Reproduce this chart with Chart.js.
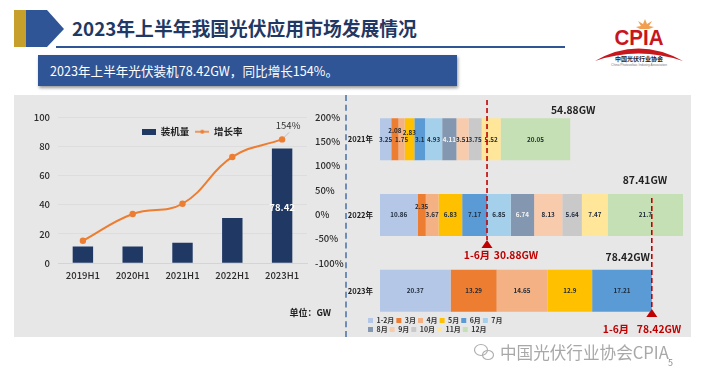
<!DOCTYPE html>
<html><head><meta charset="utf-8">
<script src="https://cdn.jsdelivr.net/npm/chart.js@4"></script>
<style>
html,body{margin:0;padding:0;background:#fff;width:702px;height:377px;overflow:hidden;font-family:"Noto Sans CJK SC","Noto Sans",sans-serif}
.abs{position:absolute}
#panel{left:14px;top:95px;width:677px;height:242px;background:#E7E7E7}
#divider{left:345px;top:95px;height:242px;border-left:2px dashed #6F8DB5}
#title{left:72px;top:14px;font-size:18.8px;font-weight:700;color:#1F3864;line-height:28px;white-space:nowrap}
#sub{left:38px;top:55px;width:419px;height:31px;background:#2F5597;box-shadow:1px 2px 3px #999;color:#fff;font-size:12.6px;line-height:31px;text-indent:12px;white-space:nowrap}
#rule{left:56px;top:46px;width:509px;height:2px;background:#2F5597}
#mark{left:500px;top:340px;font-size:16.6px;color:#A8A8A8;line-height:24px;white-space:nowrap}
#pg{left:668px;top:356px;font-size:9px;color:#888}
canvas{display:block}
</style></head><body>
<div class="abs" id="panel"></div>
<div class="abs" id="divider"></div>
<svg class="abs" style="left:0;top:0" width="702" height="377">
  <rect x="14" y="10" width="12" height="37" fill="#C7A02C"/>
  <polygon points="26,10 47,10 64,29 47,47 26,47" fill="#2F5597"/>
  <polygon points="645,19 647,24 652,21 649,26 654,27 649,29 640,29 636,27 641,26 638,21 643,24" fill="#F0A050"/>
  <text x="639" y="45" text-anchor="middle" font-family="Liberation Sans" font-weight="700" font-size="22" fill="#C8161D" textLength="49" lengthAdjust="spacingAndGlyphs">CPIA</text>
  <path d="M595 61 Q638 36 683 61 Q638 46 595 61Z" fill="#C8161D"/>
  <text x="639" y="61" text-anchor="middle" font-family="Noto Sans CJK SC" font-weight="700" font-size="6" fill="#222">中国光伏行业协会</text>
  <text x="639" y="66" text-anchor="middle" font-family="Liberation Sans" font-size="3.2" fill="#777">China Photovoltaic Industry Association</text>
  <g fill="none" stroke="#B0B0B0" stroke-width="1.2">
    <ellipse cx="481" cy="350" rx="6.5" ry="5.5"/>
    <ellipse cx="488" cy="355" rx="5.5" ry="4.5"/>
  </g>
</svg>
<div class="abs" id="title">2023年上半年我国光伏应用市场发展情况</div>
<div class="abs" id="rule"></div>
<div class="abs" id="sub">2023年上半年光伏装机78.42GW，同比增长154%。</div>
<div class="abs" style="left:14px;top:95px;width:331px;height:230px"><canvas id="left" width="331" height="230"></canvas></div>
<div class="abs" style="left:345px;top:90px;width:346px;height:265px"><canvas id="right" width="346" height="265"></canvas></div>
<div class="abs" id="mark">中国光伏行业协会CPIA</div>
<div class="abs" id="pg">5</div>
<script>
// ---- left chart data
const halves = ['2019H1','2020H1','2021H1','2022H1','2023H1'];
const installed = [11.4, 11.5, 14.0, 30.88, 78.42];
const growth = [-54, 1, 22, 118, 154];
const leftUnit = '单位：GW';
// ---- right chart data
const years = ['2021年','2022年','2023年'];
const months = ['1-2月','3月','4月','5月','6月','7月','8月','9月','10月','11月','12月'];
const month2021 = [3.25,2.08,1.75,2.83,3.1,4.93,4.11,3.51,3.75,5.52,20.05];
const month2022 = [10.86,2.35,3.67,6.83,7.17,6.85,6.74,8.13,5.64,7.47,21.7];
const month2023 = [20.37,13.29,14.65,12.9,17.21];
const yearTotals = ['54.88GW','87.41GW','78.42GW'];
const h1Values = [30.88,78.42];
const monthColors = ['#B4C7E7','#ED7D31','#F4B183','#FFC000','#5B9BD5','#A5D0EC','#8497B0','#F8CBAD','#C9C9C9','#FFE699','#C5E0B4'];
const FONT = '"Noto Sans CJK SC","Noto Sans",sans-serif';
const RED = '#C00000', INK = '#2B2B2B';
Chart.defaults.animation = false;
Chart.defaults.font.family = FONT;

// moves a native legend to a chosen canvas position, without taking chart-area room
const placeLegend = (x,y,wrapWidth) => ({id:'placeLegend', afterLayout(c){
  const l=c.legend, w=wrapWidth||(l.right-l.left), h=l.bottom-l.top;
  l.left=x; l.right=x+w; l.top=y; l.bottom=y+h;
}});
function swatch(w,h,draw){const s=document.createElement('canvas');s.width=w;s.height=h;draw(s.getContext('2d'));return s;}
const barSwatch = swatch(14,6,g=>{g.fillStyle='#1F3864';g.fillRect(0,0,14,6);});
const lineSwatch = swatch(14,6,g=>{g.strokeStyle='#ED7D31';g.lineWidth=1.5;g.beginPath();g.moveTo(0,3);g.lineTo(14,3);g.stroke();g.fillStyle='#ED7D31';g.beginPath();g.arc(7,3,2,0,7);g.fill();});

new Chart(document.getElementById('left'),{
  data:{labels:halves,datasets:[
    {type:'line',label:'增长率',data:growth,yAxisID:'y2',borderColor:'#ED7D31',backgroundColor:'#ED7D31',borderWidth:2,tension:0.42,pointRadius:2.2,order:0},
    {type:'bar',label:'装机量',data:installed,yAxisID:'y',backgroundColor:'#1F3864',categoryPercentage:1,barPercentage:0.41,order:1}
  ]},
  options:{responsive:false,
    layout:{padding:{top:22,left:0,right:0,bottom:16.3}},
    plugins:{
      tooltip:{enabled:false},
      legend:{position:'bottom',align:'start',labels:{usePointStyle:true,pointStyleWidth:14,boxHeight:6,font:{size:9.5,weight:'bold'},color:'#222',padding:6,
        generateLabels(c){return [
          {text:'装机量',pointStyle:barSwatch,datasetIndex:1,lineWidth:0,strokeStyle:'transparent',fontColor:'#222'},
          {text:'增长率',pointStyle:lineSwatch,datasetIndex:0,lineWidth:0,strokeStyle:'transparent',fontColor:'#222'}];}
      }}
    },
    scales:{
      x:{grid:{display:false,drawTicks:false},border:{color:'#D4D4D4'},ticks:{color:INK,font:{size:9.5,weight:'500'},padding:6},afterFit(s){s.height=20;}},
      y:{min:0,max:100,ticks:{stepSize:20,color:INK,font:{size:9.5,weight:'500'},padding:8},grid:{color:'#DDDDDD',drawTicks:false},border:{display:false},afterFit(s){s.width=44;}},
      y2:{position:'right',min:-100,max:200,ticks:{stepSize:50,color:INK,font:{size:9.5,weight:'500'},padding:8,callback:v=>v+'%'},grid:{display:false,drawTicks:false},border:{display:false},afterFit(s){s.width=38;}}
    }
  },
  plugins:[placeLegend(122,26),{id:'leftText',afterDatasetsDraw(c){
    const g=c.ctx, bar=c.getDatasetMeta(1).data[4], pt=c.getDatasetMeta(0).data[4];
    g.save();
    g.font='bold 9.5px '+FONT;g.fillStyle='#fff';g.textAlign='center';g.textBaseline='middle';
    g.fillText(String(installed[4]),bar.x,c.scales.y.getPixelForValue(installed[4]/2)+2);
    g.strokeStyle='#B5B5B5';g.lineWidth=0.8;g.beginPath();g.moveTo(pt.x+2,pt.y-2);g.lineTo(pt.x+7,pt.y-7);g.stroke();
    g.fillStyle='#333';g.font='9.5px '+FONT;g.fillText(growth[4]+'%',pt.x+6,pt.y-14);
    g.fillStyle='#222';g.font='bold 9px '+FONT;g.textAlign='right';g.fillText(leftUnit,c.width-14,c.height-12);
    g.restore();
  }}]
});

const series = [month2021,month2022,month2023];
const raised = {'0:1':-9,'0:3':-7,'1:1':-8};   // labels lifted above the row: year:month
new Chart(document.getElementById('right'),{
  type:'bar',
  data:{labels:years,datasets:months.map((m,i)=>({label:m,data:series.map(s=>s[i]??null),backgroundColor:monthColors[i],categoryPercentage:1,barPercentage:0.556,stack:'a'}))},
  options:{indexAxis:'y',responsive:false,
    layout:{padding:{top:6.25,right:6,left:0,bottom:7.5}},
    plugins:{tooltip:{enabled:false},
      legend:{position:'bottom',align:'start',labels:{boxWidth:5,boxHeight:5,padding:2,color:'#333',font:{size:7,weight:'bold'}}}},
    scales:{
      x:{display:false,stacked:true,min:0,max:88},
      y:{stacked:true,grid:{display:false,drawTicks:false},border:{display:false},ticks:{color:'#222',font:{size:7.5,weight:'bold'},padding:7},afterFit(s){s.width=35;}}
    }
  },
  plugins:[placeLegend(21,225,142),{id:'rightText',afterDatasetsDraw(c){
    const g=c.ctx, X=c.scales.x, Y=c.scales.y;
    g.save();
    g.textAlign='center';g.textBaseline='middle';
    months.forEach((m,i)=>{
      const meta=c.getDatasetMeta(i);
      series.forEach((s,r)=>{
        if(s[i]==null)return;
        const el=meta.data[r];
        g.font='bold 6.3px '+FONT;
        g.fillStyle=(i===6)?'#F4F4F4':'#1E2A3A';
        g.fillText(String(s[i]),(el.x+el.base)/2,el.y+(raised[r+':'+i]||0));
      });
    });
    const cy=r=>Y.getPixelForValue(r);
    g.font='bold 10.3px '+FONT;g.fillStyle='#222';
    g.fillText(yearTotals[0],X.getPixelForValue(54.88)+3,cy(0)-29);
    g.fillText(yearTotals[1],X.getPixelForValue(87.41)-38,cy(1)-35);
    g.fillText(yearTotals[2],X.getPixelForValue(78.42)-24,cy(2)-34);
    // half-year cut-off markers
    const marks=[{v:h1Values[0],from:10,to:150,tri:150,ly:165,lx1:132,lx2:171},{v:h1Values[1],from:108,to:219,tri:219,ly:239,lx1:271,lx2:314}];
    marks.forEach(k=>{
      const x=X.getPixelForValue(k.v);
      g.strokeStyle=RED;g.lineWidth=1.6;g.setLineDash([5,3]);g.beginPath();g.moveTo(x,k.from);g.lineTo(x,k.to);g.stroke();g.setLineDash([]);
      g.fillStyle=RED;g.beginPath();g.moveTo(x,k.tri);g.lineTo(x+5.5,k.tri+8);g.lineTo(x-5.5,k.tri+8);g.closePath();g.fill();
      g.font='bold 10.3px '+FONT;g.textAlign='center';
      g.fillText('1-6月',k.lx1,k.ly);
      g.fillText(k.v.toFixed(2)+'GW',k.lx2,k.ly);
    });
    g.restore();
  }}]
});
</script>
</body></html>
